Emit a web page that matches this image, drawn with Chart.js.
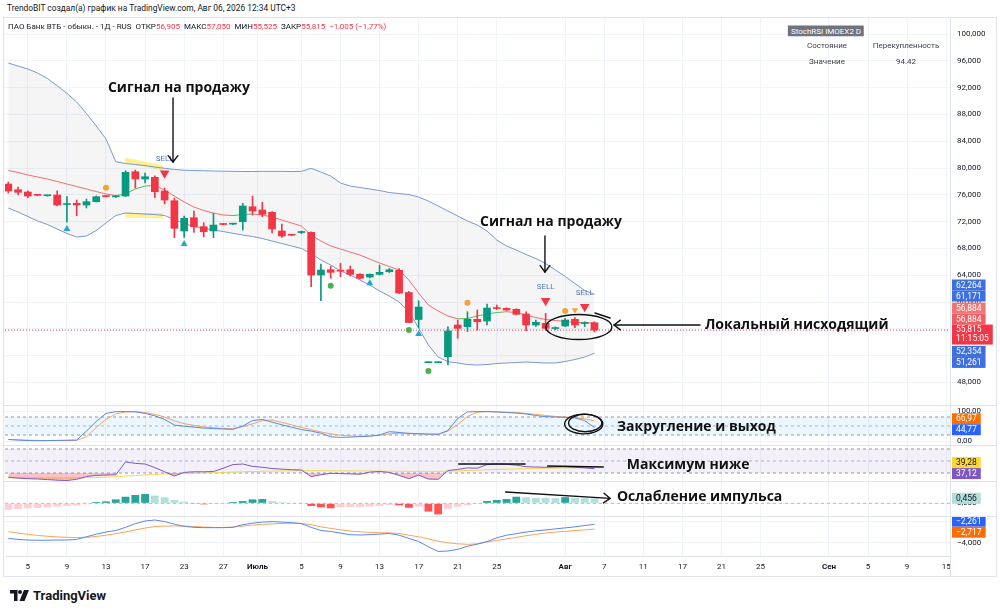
<!DOCTYPE html>
<html lang="ru">
<head>
<meta charset="utf-8">
<title>ПАО Банк ВТБ - 1Д</title>
<script src="https://cdn.jsdelivr.net/npm/chart.js@4.4.1/dist/chart.umd.min.js"></script>
<style>
  html, body { margin: 0; padding: 0; background: #fff; }
  body { width: 1000px; height: 614px; overflow: hidden; position: relative; font-family: Roboto, "Noto Sans", sans-serif; color: #131722; }
  canvas { position: absolute; left: 3px; }
  .rule { position: absolute; background: #e0e3eb; z-index: 1; }
  #frame { position: absolute; left: 3px; top: 17px; width: 994px; height: 560px; box-sizing: border-box; border: 1px solid #e0e3eb; }
  #head { position: absolute; left: 7px; top: 3px; font-size: 8.4px; white-space: nowrap; }
  #legend { position: absolute; left: 8px; top: 22px; font-size: 8px; white-space: nowrap; z-index: 2; }
  #legend .v { color: #f23645; }
  #legend .k { margin-left: 4px; }
  .cell { position: absolute; transform: translate(-50%, -50%); font-size: 8px; color: #3b3f4a; white-space: nowrap; z-index: 2; }
  #tag { background: #6f737e; color: #fff; padding: 1px 3px; }
  #logo { position: absolute; left: 10px; top: 588px; display: flex; align-items: center; gap: 4px; font: 700 13px Roboto, sans-serif; color: #131722; }
</style>
</head>
<body>
<div id="frame"></div>
<div id="head">TrendoBIT создал(а) график на TradingView.com, Авг 06, 2026 12:34 UTC+3</div>
<div id="legend"></div>
<div class="cell" style="left:826px;top:31px"><span id="tag">StochRSI IMOEX2 D</span></div>
<div class="cell" style="left:827px;top:45px">Состояние</div>
<div class="cell" style="left:906px;top:45px">Перекупленность</div>
<div class="cell" style="left:827px;top:61px">Значение</div>
<div class="cell" style="left:906px;top:61px">94.42</div>

<canvas id="main" width="994" height="387" style="top:18px"></canvas>
<canvas id="stoch" width="994" height="40" style="top:405px"></canvas>
<canvas id="rsi" width="994" height="36" style="top:445px"></canvas>
<canvas id="hist" width="994" height="35" style="top:481px"></canvas>
<canvas id="macd" width="994" height="61" style="top:516px"></canvas>

<div class="rule" style="left:3px;top:405px;width:994px;height:1px"></div>
<div class="rule" style="left:3px;top:445px;width:994px;height:1px"></div>
<div class="rule" style="left:3px;top:481px;width:994px;height:1px"></div>
<div class="rule" style="left:3px;top:516px;width:994px;height:1px"></div>
<div class="rule" style="left:950px;top:17px;width:1px;height:560px"></div>

<div id="logo">
  <svg width="19" height="11" viewBox="0 0 19 11"><path d="M0 0H7.5V11H4V3.5H0Z" fill="#131722"/><circle cx="10" cy="2" r="2" fill="#131722"/><path d="M14 0H19L14.5 11H9.5Z" fill="#131722"/></svg>
  <span>TradingView</span>
</div>

<script>
// Daily candles, bar 0 .. bar 60 (last = Aug 6)
const opens  = [77.61,76.76,76.42,75.95,75.86,75.97,74.55,74.73,74.48,74.97,
                75.80,75.70,75.82,79.45,78.36,78.61,76.57,75.12,70.60,72.58,
                71.24,70.60,71.63,71.62,71.99,74.22,73.73,73.39,70.60,70.03,
                70.37,70.40,64.03,64.82,64.66,64.82,64.13,63.73,64.13,64.52,
                64.73,61.42,57.39,50.94,50.94,51.84,56.57,56.31,57.42,57.16,
                59.10,59.06,58.91,58.21,56.57,56.82,56.04,56.42,57.42,56.78,56.905];
const highs  = [77.91,77.16,76.61,76.05,75.95,76.61,75.72,75.22,75.37,75.82,
                75.90,75.90,79.60,79.70,79.25,78.85,77.01,75.52,72.84,73.58,
                71.84,73.24,71.70,71.72,74.73,75.82,74.88,73.48,71.64,70.10,
                70.60,70.49,65.67,65.33,65.78,65.37,64.25,64.20,65.52,65.00,
                65.00,61.60,60.19,50.94,50.94,56.31,57.31,58.55,58.81,59.70,
                59.55,59.15,59.00,58.55,57.31,58.31,56.30,57.56,57.66,57.06,57.05];
const lows   = [76.27,75.97,75.57,75.85,75.80,74.33,71.90,72.88,74.03,74.93,
                75.70,75.60,75.75,77.01,77.76,75.57,74.63,69.60,69.66,70.40,
                69.75,69.60,71.50,71.55,70.75,72.99,72.73,70.30,69.66,69.90,
                70.20,62.28,60.19,63.54,63.78,63.88,63.45,63.60,64.03,64.40,
                61.30,56.90,56.12,50.94,50.94,50.60,54.58,55.57,55.82,56.57,
                58.88,58.70,58.10,55.72,56.34,55.82,55.85,56.31,56.16,56.34,55.525];
const closes = [76.57,76.37,75.82,75.92,75.88,74.48,74.62,74.48,74.97,75.72,
                75.74,75.74,79.36,78.36,78.70,76.46,75.22,71.00,72.49,71.24,
                70.49,71.49,71.57,71.66,74.33,73.58,73.09,70.90,69.85,69.97,
                70.42,64.03,64.78,64.43,64.60,64.13,63.54,64.13,64.43,64.82,
                61.34,56.94,59.25,50.94,50.94,55.67,56.07,57.42,57.06,59.10,
                59.03,58.81,58.16,56.57,56.97,56.07,56.10,57.31,56.57,56.82,55.815];

// Bollinger-style channel
const bbBasis = [79.63,79.33,78.96,78.66,78.36,77.99,77.61,77.24,76.87,76.49,
                 76.12,75.90,76.12,76.87,77.31,77.39,76.72,75.82,74.93,74.18,
                 73.66,73.28,72.99,72.91,73.06,73.13,72.99,72.69,72.24,71.79,
                 71.34,70.00,69.10,68.36,67.91,67.46,67.01,66.42,65.82,65.30,
                 64.78,63.28,61.34,59.55,58.66,57.91,57.50,57.54,57.91,58.21,
                 58.43,58.55,58.43,58.06,57.69,57.39,57.24,57.09,56.94,56.90,56.884];
const bbUpper = [95.67,95.22,94.78,94.18,93.36,92.28,91.15,89.85,88.13,86.27,
                 84.33,80.94,80.67,80.52,80.37,80.15,79.96,79.78,79.67,79.63,
                 79.60,79.55,79.52,79.50,79.48,79.48,79.50,79.50,79.50,79.47,
                 79.50,79.96,79.40,78.81,77.76,77.31,77.09,76.87,76.64,76.34,
                 76.19,76.04,75.67,75.07,74.33,73.58,72.84,72.09,71.49,70.60,
                 69.25,68.36,67.76,67.09,66.49,65.75,64.78,63.81,62.76,61.70,61.171];
const bbLower = [74.03,73.43,72.76,72.09,71.57,70.90,70.22,69.70,69.85,70.67,
                 71.79,72.91,73.28,73.21,73.13,73.06,72.91,72.31,71.72,71.27,
                 70.97,70.75,70.52,70.25,70.00,69.78,69.48,69.10,68.73,68.36,
                 67.99,67.24,66.27,65.52,64.63,64.03,63.28,62.54,61.64,60.90,
                 60.00,58.51,56.12,53.58,51.79,51.09,50.90,50.67,50.60,50.67,
                 50.82,50.90,50.97,51.04,50.97,50.90,50.90,51.12,51.42,51.79,52.354];
// second channel, only its last values show as axis badges
const channel2Last = { upper: 62.264, basis: 56.884, lower: 51.261 };

// signal markers (bar, price level)
const sellBars = [16, 55, 59];
const sellLevels = [79.21, 60.19, 59.30];
const orangeDotBars = [10, 47, 57];
const orangeDotLevels = [77.06, 59.90, 58.66];
const orangeTriBars = [58];
const orangeTriLevels = [58.81];
const tealTriBars = [6, 18, 37, 42];
const tealTriLevels = [70.90, 68.66, 62.79, 55.22];
const greenDotBars = [33, 41, 43];
const greenDotLevels = [62.43, 55.82, 49.70];

// StochRSI
const stochK = [5,3,1.5,1,1.5,2,2.5,3,33,65,
                92,97.7,98,97,92,84,72,53,49.5,46.5,
                43,41.5,40,39,50,68,72,63,54,46,
                38,33,26,14,12,13,14.5,16,20,31,
                28.5,25,24,23,22,35,75,97,98,98,
                97,95,93,90,85,81,80,79,77,68,44.77];
const stochD = [5,4,3,2,1.5,1.5,2,2.5,14,45,
                72,90,97,98,95,89,80,67,58,52,
                47,44,42,41,48,57,68,70,62,54,
                45,38,30,24,19,17,16,17,19,24,
                26,26,24,23,23,33,55,82,96,98,
                97,96,95,92,89,85,82,80,78,74,66.97];
const stochLevels = [80, 50, 20];

// RSI and its moving average
const rsi = [23,21.5,20.5,20,19,18,17.5,19.5,24,26,
             26.5,27,48.5,46,45,39,32,25,31,32,
             32,32.5,38,44,45,41,39.5,37.5,36.5,35.5,
             35,24,27,29.5,29,28.5,28,31.5,32.5,31,
             26,20.5,26.5,20,19.5,34,36,38.5,38,44,
             45,44.5,43,40.5,40,39.5,40,40.5,39.5,38.5,37.12];
const rsiMa = [22,21.9,21.8,21.7,21.6,21.5,21.6,21.8,22.1,22.5,
               23,23.8,24.8,25.8,26.8,27.6,28.3,28.7,29.1,29.6,
               30,30.5,31,31.5,32,32.5,32.9,33.2,33.5,33.8,
               34,33.9,33.8,33.7,33.6,33.5,33.4,33.3,33.2,33.1,
               33,32.8,32.7,32.7,32.8,33.1,33.6,34.2,34.8,35.4,
               36,36.5,36.9,37.3,37.6,38,38.3,38.6,38.9,39.1,39.28];
const rsiLevels = [70, 50, 30];

// MACD
const macdHist = [-0.6,-0.52,-0.45,-0.42,-0.36,-0.3,-0.24,-0.18,-0.09,0.12,
                  0.18,0.36,0.6,0.76,0.85,0.7,0.55,0.3,0.15,-0.06,
                  -0.09,-0.03,-0.02,0.12,0.21,0.36,0.39,0.2,0.1,0.05,
                  0.03,-0.24,-0.36,-0.45,-0.36,-0.33,-0.32,-0.3,-0.24,-0.15,
                  -0.18,-0.4,-0.3,-0.75,-1.0,-0.5,-0.3,-0.18,-0.05,0.21,
                  0.3,0.39,0.6,0.55,0.5,0.5,0.47,0.56,0.5,0.47,0.456];
const macdLine = [-3.6,-3.7,-3.76,-3.78,-3.78,-3.76,-3.76,-3.7,-3.45,-3.2,
                  -3.0,-2.85,-2.55,-2.2,-1.95,-1.85,-2.0,-2.25,-2.45,-2.55,
                  -2.58,-2.58,-2.58,-2.55,-2.3,-2.15,-2.05,-2.01,-2.05,-2.1,
                  -2.2,-2.55,-2.85,-2.95,-3.1,-3.25,-3.28,-3.25,-3.2,-3.13,
                  -3.3,-3.6,-3.9,-4.4,-4.85,-4.8,-4.65,-4.35,-4.15,-3.9,
                  -3.55,-3.3,-3.15,-3.0,-2.88,-2.8,-2.7,-2.6,-2.5,-2.38,-2.261];
const macdSignal = [-2.95,-3.1,-3.22,-3.32,-3.4,-3.46,-3.5,-3.52,-3.5,-3.42,
                    -3.3,-3.15,-2.98,-2.8,-2.62,-2.48,-2.43,-2.42,-2.43,-2.47,
                    -2.52,-2.56,-2.56,-2.52,-2.43,-2.33,-2.27,-2.22,-2.18,-2.16,
                    -2.17,-2.3,-2.5,-2.65,-2.78,-2.9,-2.98,-3.03,-3.06,-3.08,
                    -3.14,-3.3,-3.45,-3.65,-3.87,-4.02,-4.12,-4.17,-4.12,-3.95,
                    -3.8,-3.65,-3.5,-3.35,-3.22,-3.1,-3.0,-2.93,-2.86,-2.79,-2.717];

// time axis: bar index of each date label
const dateTickBars   = [2,6,10,14,18,22,25.5,30,34,38,42,46,50,57,61,65,69,73,77,84,88,92,96];
const dateTickLabels = ['5','9','13','17','23','27','Июль','5','9','13','17','21','25','Авг','7','11','17','21','25','Сен','5','9','15'];
const priceTicks = [48,52,56,60,64,68,72,76,80,84,88,92,96,100];

// ---- layout ----
const X_MIN = -0.338, X_MAX = 96.39;
const UP = '#089981', DOWN = '#f23645', BAND = '#7a98d0';
const NOTE_FONT = '700 14px "Open Sans", sans-serif';
const last = closes.length - 1;

const fmt = (v, d) => (v < 0 ? '\u2212' : '') + Math.abs(v).toFixed(d).replace('.', ',');
const series = arr => arr.map((v, i) => ({ x: i, y: v }));
const markers = (bars, levels) => bars.map((b, k) => ({ x: b, y: levels[k] }));
const hLine = (v, extra) => Object.assign({
  type: 'line', data: [{ x: X_MIN, y: v }, { x: X_MAX, y: v }],
  pointRadius: 0, borderWidth: 1, fill: false
}, extra);

// legend line
const chg = closes[last] - closes[last - 1];
document.getElementById('legend').innerHTML =
  'ПАО Банк ВТБ - обыкн. - 1Д - RUS<span class="k">ОТКР</span><span class="v">' + fmt(opens[last], 3) +
  '</span><span class="k">МАКС</span><span class="v">' + fmt(highs[last], 3) +
  '</span><span class="k">МИН</span><span class="v">' + fmt(lows[last], 3) +
  '</span><span class="k">ЗАКР</span><span class="v">' + fmt(closes[last], 3) +
  '</span><span class="k v">' + fmt(chg, 3) + ' (' + fmt(chg / closes[last - 1] * 100, 2) + '%)</span>';

// ---- plugins ----
function drawNotes(chart, items, under) {
  const { ctx, scales: { x, y } } = chart;
  const X = v => x.getPixelForValue(v), Y = v => y.getPixelForValue(v);
  ctx.save();
  for (const it of items) {
    if (!!it.under !== under) continue;
    ctx.strokeStyle = it.color || '#111';
    ctx.fillStyle = it.color || '#111';
    ctx.lineWidth = it.width || 1.4;
    ctx.lineCap = it.under ? 'butt' : 'round';
    if (it.kind === 'text') {
      ctx.font = NOTE_FONT;
      ctx.textAlign = 'left';
      ctx.textBaseline = 'middle';
      ctx.fillText(it.text, X(it.x), Y(it.y));
    } else if (it.kind === 'line' || it.kind === 'arrow') {
      const x1 = X(it.x1), y1 = Y(it.y1), x2 = X(it.x2), y2 = Y(it.y2);
      ctx.beginPath(); ctx.moveTo(x1, y1); ctx.lineTo(x2, y2); ctx.stroke();
      if (it.kind === 'arrow') {
        const a = Math.atan2(y2 - y1, x2 - x1), L = 8;
        ctx.beginPath();
        ctx.moveTo(x2 - L * Math.cos(a - 0.65), y2 - L * Math.sin(a - 0.65));
        ctx.lineTo(x2, y2);
        ctx.lineTo(x2 - L * Math.cos(a + 0.65), y2 - L * Math.sin(a + 0.65));
        ctx.stroke();
      }
    } else if (it.kind === 'ellipse') {
      const cx = X(it.x), cy = Y(it.y);
      const rx = Math.abs(X(it.x + it.rx) - cx), ry = Math.abs(Y(it.y + it.ry) - cy);
      ctx.beginPath(); ctx.ellipse(cx, cy, rx, ry, it.rot || 0, 0, Math.PI * 2); ctx.stroke();
    }
  }
  ctx.restore();
}
const notesPlugin = items => ({
  id: 'notes',
  beforeDatasetsDraw(chart) { drawNotes(chart, items, true); },
  afterDraw(chart) { drawNotes(chart, items, false); }
});

// colored value tags on the price axis, pushed apart so they don't overlap
const badgePlugin = list => ({
  id: 'badges',
  afterDraw(chart) {
    const { ctx, chartArea, scales: { y } } = chart;
    const tags = list.map(b => {
      const h = b.sub ? 20 : 11;
      const py = y.getPixelForValue(b.value);
      return Object.assign({}, b, { h, c: b.sub ? py + 4.5 : py });
    }).sort((a, b) => a.c - b.c);
    for (let it = 0; it < 60; it++) {
      for (let i = 0; i < tags.length - 1; i++) {
        const a = tags[i], b = tags[i + 1];
        const ov = (a.h + b.h) / 2 - (b.c - a.c);
        if (ov > 0) {
          if (a.fixed) b.c += ov; else if (b.fixed) a.c -= ov;
          else { a.c -= ov / 2; b.c += ov / 2; }
        }
      }
    }
    ctx.save();
    ctx.font = '8.5px Roboto, sans-serif';
    ctx.textBaseline = 'middle';
    ctx.textAlign = 'left';
    const x0 = chartArea.right + 2;
    for (const t of tags) {
      const w = Math.max(ctx.measureText(t.text).width, t.sub ? ctx.measureText(t.sub).width : 0) + 8;
      ctx.fillStyle = t.color;
      ctx.fillRect(x0, t.c - t.h / 2, w, t.h);
      ctx.fillStyle = t.textColor || '#fff';
      if (t.sub) {
        ctx.fillText(t.text, x0 + 4, t.c - 4.5);
        ctx.fillText(t.sub, x0 + 4, t.c + 4.5);
      } else {
        ctx.fillText(t.text, x0 + 4, t.c + 0.5);
      }
    }
    ctx.restore();
  }
});

const sellTextPlugin = {
  id: 'sellText',
  afterDatasetsDraw(chart) {
    const { ctx, scales: { x, y } } = chart;
    ctx.save();
    ctx.font = '8px Roboto, sans-serif';
    ctx.fillStyle = '#5677c0';
    ctx.textAlign = 'center';
    ctx.textBaseline = 'middle';
    sellBars.forEach((b, k) => ctx.fillText('SELL', x.getPixelForValue(b), y.getPixelForValue(sellLevels[k]) - 14));
    ctx.restore();
  }
};

// ---- pane factory ----
function pane(id, type, yMin, yMax, yTicks, digits, datasets, plugins, showTime) {
  return new Chart(document.getElementById(id), {
    type,
    data: { datasets },
    options: {
      animation: false,
      responsive: false,
      maintainAspectRatio: false,
      events: [],
      layout: { padding: { left: 2, right: 0, top: 0, bottom: 0 }, autoPadding: false },
      plugins: { legend: { display: false }, tooltip: { enabled: false } },
      scales: {
        x: {
          type: 'linear', min: X_MIN, max: X_MAX, offset: false,
          afterBuildTicks: s => { s.ticks = dateTickBars.map(v => ({ value: v })); },
          afterFit: s => { s.height = showTime ? 21 : 0; s.paddingLeft = 0; s.paddingRight = 0; },
          grid: { color: '#f0f3fa', drawTicks: false, offset: false },
          border: { display: showTime, color: '#e0e3eb' },
          ticks: {
            display: showTime, padding: 6, maxRotation: 0, autoSkip: false, color: '#131722',
            font: c => ({ size: 8, family: 'Roboto', weight: /[А-я]/.test(dateTickLabels[c.index] || '') ? 'bold' : 'normal' }),
            callback: (v, i) => dateTickLabels[i]
          }
        },
        y: {
          position: 'right', min: yMin, max: yMax,
          afterBuildTicks: s => { s.ticks = yTicks.map(v => ({ value: v })); },
          afterFit: s => { s.width = 47; s.paddingTop = 0; s.paddingBottom = 0; },
          grid: { color: '#f0f3fa', drawTicks: false },
          border: { color: '#e0e3eb' },
          ticks: { padding: 7, color: '#131722', font: { size: 8, family: 'Roboto' }, callback: v => fmt(v, digits) }
        }
      }
    },
    plugins
  });
}

// ---- main price pane ----
const candleColors = opens.map((o, i) => closes[i] >= o ? UP : DOWN);
const markerSet = (bars, levels, style, r, color, rot) => ({
  type: 'line', data: markers(bars, levels), showLine: false,
  pointStyle: style, pointRadius: r, pointRotation: rot || 0,
  pointBackgroundColor: color, pointBorderWidth: 0, order: 1
});

pane('main', 'bar', 44.63, 102.39, priceTicks, 3, [
  { type: 'line', data: series(bbUpper), borderColor: BAND, borderWidth: 1, pointRadius: 0, fill: false, order: 10 },
  { type: 'line', data: series(bbLower), borderColor: BAND, borderWidth: 1, pointRadius: 0,
    fill: '-1', backgroundColor: 'rgba(120,123,134,0.075)', order: 10 },
  { type: 'line', data: series(bbBasis), borderWidth: 1, pointRadius: 0, fill: false, order: 9,
    borderColor: '#ec6f6f',
    segment: { borderColor: c => c.p1.parsed.y > c.p0.parsed.y ? '#5cb85c' : '#ec6f6f' } },
  hLine(closes[last], { borderColor: DOWN, borderDash: [1, 2], order: 8 }),
  { type: 'bar', data: highs.map((h, i) => ({ x: i, y: [lows[i], h] })), backgroundColor: candleColors,
    grouped: false, maxBarThickness: 1, barPercentage: 1, categoryPercentage: 1, minBarLength: 1, order: 6 },
  { type: 'bar', data: opens.map((o, i) => ({ x: i, y: [o, closes[i]] })), backgroundColor: candleColors,
    grouped: false, maxBarThickness: 7, barPercentage: 1, categoryPercentage: 1, minBarLength: 1, order: 5 },
  markerSet(sellBars, sellLevels, 'triangle', 5.5, '#f23645', 180),
  markerSet(orangeDotBars, orangeDotLevels, 'circle', 3, '#f2a33a'),
  markerSet(orangeTriBars, orangeTriLevels, 'triangle', 3.6, '#f2a33a', 180),
  markerSet(tealTriBars, tealTriLevels, 'triangle', 4, '#26a7c4'),
  markerSet(greenDotBars, greenDotLevels, 'circle', 3, '#4caf50')
], [
  sellTextPlugin,
  notesPlugin([
    { kind: 'line', under: true, x1: 11.95, y1: 81.19, x2: 15.83, y2: 80.0, width: 5, color: 'rgba(255,232,70,0.6)' },
    { kind: 'line', under: true, x1: 11.95, y1: 72.99, x2: 15.83, y2: 72.84, width: 5, color: 'rgba(255,232,70,0.6)' },
    { kind: 'text', x: 10.2, y: 91.94, text: 'Сигнал на продажу' },
    { kind: 'arrow', x1: 16.86, y1: 90.45, x2: 16.86, y2: 80.90 },
    { kind: 'text', x: 48.28, y: 71.94, text: 'Сигнал на продажу' },
    { kind: 'arrow', x1: 54.93, y1: 69.85, x2: 54.93, y2: 64.48 },
    { kind: 'ellipse', x: 58.4, y: 56.27, rx: 3.38, ry: 1.87 },
    { kind: 'line', x1: 60.05, y1: 58.36, x2: 61.6, y2: 57.61 },
    { kind: 'arrow', x1: 70.8, y1: 56.57, x2: 62.0, y2: 56.57 },
    { kind: 'text', x: 71.3, y: 56.57, text: 'Локальный нисходящий' }
  ]),
  badgePlugin([
    { value: channel2Last.upper, text: fmt(channel2Last.upper, 3), color: '#3d6fe0' },
    { value: bbUpper[last], text: fmt(bbUpper[last], 3), color: '#3d6fe0' },
    { value: channel2Last.basis, text: fmt(channel2Last.basis, 3), color: '#f07575' },
    { value: bbBasis[last], text: fmt(bbBasis[last], 3), color: '#ef5f62' },
    { value: closes[last], text: fmt(closes[last], 3), sub: '11:15:05', color: '#f23645', fixed: true },
    { value: bbLower[last], text: fmt(bbLower[last], 3), color: '#3d6fe0' },
    { value: channel2Last.lower, text: fmt(channel2Last.lower, 3), color: '#3d6fe0' }
  ])
], false);

// ---- StochRSI ----
pane('stoch', 'line', -13.33, 120, [0, 100], 2, [
  hLine(stochLevels[0], { borderColor: '#9598a1', borderDash: [3, 3], order: 5 }),
  hLine(stochLevels[2], { borderColor: '#9598a1', borderDash: [3, 3], fill: '-1', backgroundColor: 'rgba(33,150,243,0.09)', order: 5 }),
  hLine(stochLevels[1], { borderColor: '#b8bbc3', borderDash: [3, 3], order: 5 }),
  { data: series(stochD), borderColor: '#f6a45a', borderWidth: 1, pointRadius: 0, fill: false, order: 2 },
  { data: series(stochK), borderColor: '#5a86ec', borderWidth: 1, pointRadius: 0, fill: false, order: 1 }
], [
  notesPlugin([
    { kind: 'ellipse', x: 58.9, y: 56.7, rx: 1.95, ry: 33 },
    { kind: 'ellipse', x: 59.05, y: 60, rx: 1.7, ry: 29 },
    { kind: 'text', x: 62.3, y: 46.7, text: 'Закругление и выход' }
  ]),
  badgePlugin([
    { value: stochD[last], text: fmt(stochD[last], 2), color: '#ff6d00' },
    { value: stochK[last], text: fmt(stochK[last], 2), color: '#2962ff' }
  ])
], false);

// ---- RSI ----
pane('rsi', 'line', 16.67, 76.67, [], 2, [
  hLine(rsiLevels[0], { borderColor: '#9598a1', borderDash: [3, 3], order: 5 }),
  hLine(rsiLevels[2], { borderColor: '#9598a1', borderDash: [3, 3], fill: '-1', backgroundColor: 'rgba(126,87,194,0.09)', order: 5 }),
  hLine(rsiLevels[1], { borderColor: '#b8bbc3', borderDash: [3, 3], order: 5 }),
  { data: series(rsiMa), borderColor: '#f3d55a', borderWidth: 1, pointRadius: 0, fill: false, order: 2 },
  { data: series(rsi), borderColor: '#7e57c2', borderWidth: 1, pointRadius: 0, order: 1,
    fill: { target: { value: rsiLevels[2] }, above: 'rgba(0,0,0,0)', below: 'rgba(242,54,69,0.3)' } }
], [
  notesPlugin([
    { kind: 'line', x1: 46.1, y1: 45, x2: 52.9, y2: 45 },
    { kind: 'line', x1: 55.2, y1: 41.7, x2: 60.9, y2: 40 },
    { kind: 'text', x: 63.3, y: 43.3, text: 'Максимум ниже' }
  ]),
  badgePlugin([
    { value: rsiMa[last], text: fmt(rsiMa[last], 2), color: '#fdd835', textColor: '#131722' },
    { value: rsi[last], text: fmt(rsi[last], 2), color: '#7e57c2' }
  ])
], false);

// ---- MACD histogram ----
const histColors = macdHist.map((v, i) => {
  const prev = i ? macdHist[i - 1] : v;
  return v >= 0 ? (v > prev ? '#26a69a' : '#b2dfdb') : (v < prev ? '#ff5252' : '#ffcdd2');
});
pane('hist', 'bar', -1.15, 2.03, [0], 3, [
  hLine(0, { borderColor: '#b8bbc3', borderDash: [3, 3], order: 5 }),
  { type: 'bar', data: series(macdHist), backgroundColor: histColors, categoryPercentage: 1, barPercentage: 0.8, order: 1 }
], [
  notesPlugin([
    { kind: 'arrow', x1: 50.9, y1: 1.03, x2: 61.6, y2: 0.45 },
    { kind: 'text', x: 62.3, y: 0.57, text: 'Ослабление импульса' }
  ]),
  badgePlugin([
    { value: macdHist[last], text: fmt(macdHist[last], 3), color: histColors[last], textColor: '#131722' }
  ])
], false);

// ---- MACD lines + time axis ----
pane('macd', 'line', -5.28, -1.47, [-2, -4], 3, [
  { data: series(macdSignal), borderColor: '#f6a45a', borderWidth: 1, pointRadius: 0, fill: false, order: 2 },
  { data: series(macdLine), borderColor: '#5a86ec', borderWidth: 1, pointRadius: 0, fill: false, order: 1 }
], [
  badgePlugin([
    { value: macdLine[last], text: fmt(macdLine[last], 3), color: '#2962ff' },
    { value: macdSignal[last], text: fmt(macdSignal[last], 3), color: '#ff6d00' }
  ])
], true);
</script>
</body>
</html>
